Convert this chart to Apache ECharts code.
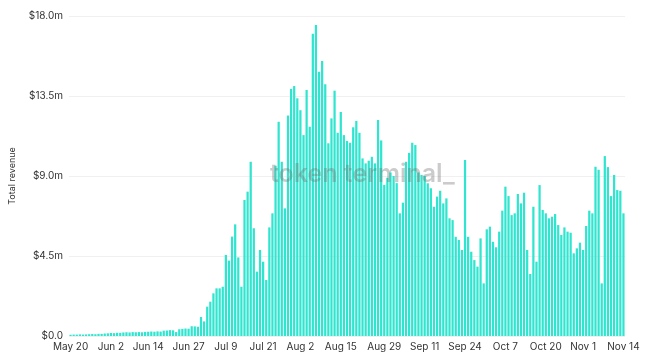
<!DOCTYPE html>
<html>
<head>
<meta charset="utf-8">
<script src="https://cdn.jsdelivr.net/npm/echarts@6/dist/echarts.min.js"></script>
<style>
html,body{margin:0;padding:0;background:#fff;}
#chart{width:664px;height:358px;}
</style>
</head>
<body>
<div id="chart"></div>
<script>
// Daily total revenue, in $ millions, May 20 -> Nov 14
var startDate = [2023, 4, 20]; // month index 4 = May
var revenue = [
  0.07,0.08,0.08,0.09,0.08,0.09,
  0.10,0.11,0.10,0.12,0.12,
  0.14,0.15,0.17,0.16,0.18,0.18,
  0.20,0.21,0.20,0.22,0.21,0.22,0.21,0.23,
  0.24,0.25,0.24,0.26,0.25,
  0.30,0.31,0.33,0.32,0.22,
  0.38,0.40,0.42,0.41,
  0.55,0.54,0.52,
  1.07,0.82,1.65,1.93,2.40,2.68,2.68,2.77,
  4.56,4.24,5.59,6.28,4.42,2.77,7.65,8.12,9.80,6.06,
  3.62,4.84,4.18,3.15,6.11,6.90,
  9.58,12.05,9.80,7.18,12.40,13.90,14.06,13.37,12.70,11.30,
  13.84,11.77,17.00,17.50,14.87,15.47,14.16,10.84,12.24,13.80,
  11.43,12.60,11.30,10.97,10.87,11.74,12.10,11.43,9.99,9.71,
  9.86,10.08,9.71,12.15,11.00,
  8.50,8.90,9.20,9.00,8.60,6.90,7.50,9.80,10.30,10.87,10.74,9.20,
  9.06,9.00,8.59,8.31,7.27,7.84,8.17,7.46,7.74,6.62,
  6.52,5.58,5.40,4.84,9.90,5.58,4.74,4.27,3.90,5.49,
  2.96,6.00,6.15,5.30,4.99,5.87,7.05,8.40,7.87,6.80,
  6.90,7.99,7.46,8.06,4.84,3.49,7.27,4.18,8.49,7.09,
  6.90,6.62,6.71,6.86,6.24,5.68,6.11,5.87,5.81,4.65,
  4.93,5.25,4.84,6.19,7.05,6.90,9.52,9.35,2.96,10.12,
  9.50,7.87,9.06,8.21,8.17,6.90
];
var tickLabels = ["May 20","Jun 2","Jun 14","Jun 27","Jul 9","Jul 21","Aug 2","Aug 15","Aug 29","Sep 11","Sep 24","Oct 7","Oct 20","Nov 1","Nov 14"];
var yTicks = [0, 4.5, 9, 13.5, 18];

var monthNames = ["Jan","Feb","Mar","Apr","May","Jun","Jul","Aug","Sep","Oct","Nov","Dec"];
var categories = revenue.map(function(_, i){
  var d = new Date(startDate[0], startDate[1], startDate[2] + i);
  return monthNames[d.getMonth()] + " " + d.getDate();
});
var showSet = {};
tickLabels.forEach(function(t){ showSet[t] = true; });

var chart = echarts.init(document.getElementById('chart'), null, {renderer:'canvas'});
chart.setOption({
  animation:false,
  grid:{left:65, right:39, top:16, bottom:22},
  xAxis:{
    type:'category',
    data:categories,
    boundaryGap:true,
    axisLine:{show:false},
    axisTick:{show:false},
    axisLabel:{
      interval:function(idx, val){ return !!showSet[val]; },
      color:'#333', fontSize:10, fontFamily:'Inter', margin:6, hideOverlap:false
    },
    splitLine:{show:false}
  },
  yAxis:{
    type:'value',
    min:yTicks[0], max:yTicks[yTicks.length-1], interval:4.5,
    name:'Total revenue',
    nameLocation:'middle',
    nameGap:52,
    nameTextStyle:{color:'#333', fontSize:9, fontFamily:'Inter'},
    axisLine:{show:false},
    axisTick:{show:false},
    axisLabel:{
      color:'#333', fontSize:10, fontFamily:'Inter', margin:6,
      formatter:function(v){ return v === 0 ? '$0.0' : '$' + v.toFixed(1) + 'm'; }
    },
    splitLine:{lineStyle:{color:'#f0f0f0', width:1}}
  },
  series:[{
    type:'bar',
    data:revenue,
    barCategoryGap:'28%',
    itemStyle:{color:'#2fe5cf'},
    silent:true
  }],
  graphic:[{
    type:'text',
    left:270,
    top:162,
    z:100,
    style:{
      text:'token terminal_',
      fill:'rgba(110,110,110,0.36)',
      font:'600 25px Inter'
    },
    silent:true
  }]
});
</script>
</body>
</html>
